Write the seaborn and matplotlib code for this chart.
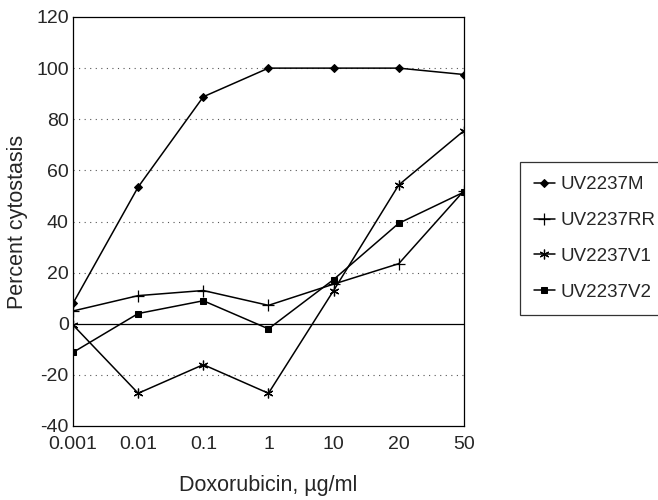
"""Percent cytostasis vs doxorubicin concentration for four UV2237 lines."""

import matplotlib
matplotlib.use("Agg")
import matplotlib.pyplot as plt
import numpy as np
import pandas as pd
import seaborn as sns

concentrations = ["0.001", "0.01", "0.1", "1", "10", "20", "50"]
uv2237m = [8, 53.5, 88.8, 100, 100, 100, 97.5]
uv2237rr = [5, 11, 13, 7.2, 15.5, 23.5, 52]
uv2237v1 = [-0.5, -27.2, -16, -27.2, 13, 54.3, 75.5]
uv2237v2 = [-11.2, 4, 9, -2, 17.3, 39.3, 51.5]

series = {
    "UV2237M": uv2237m,
    "UV2237RR": uv2237rr,
    "UV2237V1": uv2237v1,
    "UV2237V2": uv2237v2,
}
marqueurs = {
    "UV2237M": dict(marker="D", markersize=4.5),
    "UV2237RR": dict(marker="+", markersize=8, markeredgewidth=0.9),
    "UV2237V1": dict(marker=(6, 2, 0), markersize=7, markeredgewidth=0.9),
    "UV2237V2": dict(marker="s", markersize=4.5),
}

sns.set_theme(style="white")
plt.rcParams["font.family"] = ["Liberation Sans", "DejaVu Sans"]
plt.rcParams["axes.unicode_minus"] = False

fig = plt.figure(figsize=(6.58, 5), dpi=100)
ax = fig.add_axes([0.111, 0.148, 0.594, 0.818])

positions = np.arange(len(concentrations))
for nom, valeurs in series.items():
    df = pd.DataFrame({"pos": positions, "val": valeurs})
    sns.lineplot(data=df, x="pos", y="val", color="black", linewidth=1.1,
                 markeredgecolor="black", markerfacecolor="black",
                 label=nom, ax=ax, **marqueurs[nom])

for y in [-20, 20, 40, 60, 80, 100]:
    ax.axhline(y, color="#555555", linestyle=(0, (1, 4)), linewidth=0.8, zorder=0)
ax.axhline(0, color="black", linewidth=0.9, zorder=0)

ax.set_xlim(0, len(concentrations) - 1)
ax.set_ylim(-40, 120)
ax.set_xticks(positions)
ax.set_xticklabels(concentrations)
ax.set_yticks(range(-40, 121, 20))
ax.tick_params(axis="both", labelsize=14, length=0)
ax.tick_params(axis="x", pad=7)
ax.tick_params(axis="y", pad=3)
for s in ax.spines.values():
    s.set_color("black")
    s.set_linewidth(0.9)

ax.set_xlabel("Doxorubicin, µg/ml", fontsize=15.5, labelpad=16)
ax.set_ylabel("Percent cytostasis", fontsize=15.5, labelpad=6)

handles, labels = ax.get_legend_handles_labels()
ax.get_legend().remove()
leg = fig.legend(handles, labels, loc="upper left", bbox_to_anchor=(0.79, 0.676),
                 fontsize=13.5, frameon=True, fancybox=False, edgecolor="black",
                 handlelength=1.1, handletextpad=0.3, labelspacing=1.0,
                 borderpad=0.75, borderaxespad=0)
leg.get_frame().set_linewidth(0.9)

fig.savefig("out.png", dpi=100)
